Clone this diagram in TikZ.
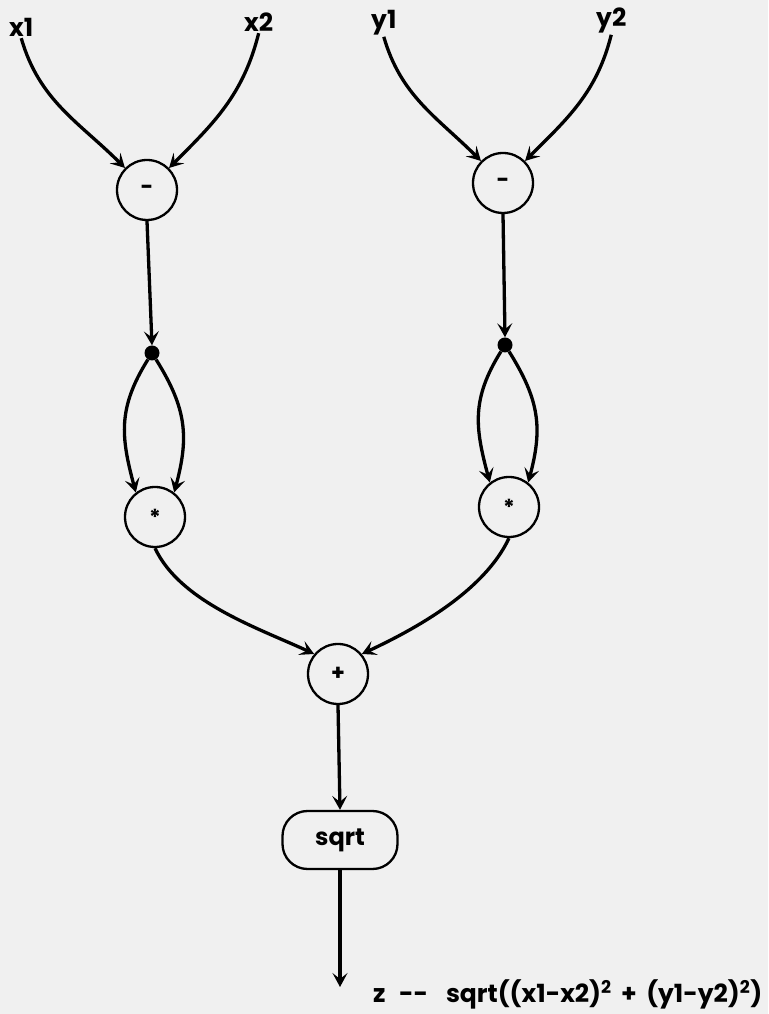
\documentclass[tikz,border=0pt]{standalone}
\usepackage{fontspec}
\setmainfont{Poppins}
\usetikzlibrary{arrows.meta}
\begin{document}
\begin{tikzpicture}[x=1pt,y=1pt,
  op/.style={draw=black,line width=2.3pt,circle,minimum size=60pt,inner sep=0pt,font=\bfseries\fontsize{22}{22}\selectfont},
  lbl/.style={inner sep=1pt,anchor=base west,font=\bfseries\fontsize{25}{25}\selectfont},
  dotn/.style={circle,fill=black,minimum size=15pt,inner sep=0pt},
  boxn/.style={draw=black,line width=2.3pt,rounded corners=25pt,minimum width=115pt,minimum height=58pt,inner sep=0pt,font=\bfseries\fontsize{24}{24}\selectfont},
  arr/.style={line width=3.3pt,-{Stealth[length=14pt,width=15pt,inset=6pt]}}]
\fill[fill=black!6] (0,0) rectangle (768,1014);
\useasboundingbox (0,0) rectangle (768,1014);
% inputs
\node[lbl] (x1) at (8,977) {x1};
\node[lbl] (x2) at (243,982) {x2};
\node[lbl] (y1) at (370,985) {y1};
\node[lbl] (y2) at (595,987) {y2};
% operators
\node[op] (m1) at (147,824) {-};
\node[op] (m2) at (503,831) {-};
\node[dotn] (d1) at (152,661) {};
\node[dotn] (d2) at (505,669) {};
\node[op] (s1) at (155,497) {*};
\node[op] (s2) at (509,507) {*};
\node[op] (p) at (338,340) {+};
\node[boxn] (sq) at (340,174) {sqrt};
\coordinate (z) at (340,27);
\node[inner sep=0pt,anchor=base west,font=\bfseries\fontsize{25}{25}\selectfont] (res) at (373,11)
  {z\,\, -{}-\,\,\, sqrt((x1-x2)\textsuperscript{2}\, + \,(y1-y2)\textsuperscript{2})};
% edges
\draw[arr] (x1.south) to[out=-74,in=135] (m1.135);
\draw[arr] (x2.south) to[out=-104,in=45] (m1.45);
\draw[arr] (y1.south) to[out=-74,in=135] (m2.135);
\draw[arr] (y2.south) to[out=-104,in=45] (m2.45);
\draw[arr] (m1.south) -- (d1.north);
\draw[arr] (m2.south) -- (d2.north);
\draw[arr] (d1) to[out=-122,in=105,looseness=1.1] (s1.128);
\draw[arr] (d1) to[out=-58,in=75,looseness=1.1] (s1.52);
\draw[arr] (d2) to[out=-122,in=105,looseness=1.1] (s2.128);
\draw[arr] (d2) to[out=-58,in=75,looseness=1.1] (s2.52);
\draw[arr] (s1.south) to[out=-65,in=155,looseness=0.8] (p.140);
\draw[arr] (s2.south) to[out=-115,in=25,looseness=0.8] (p.40);
\draw[arr] (p.south) -- (sq.north);
\draw[arr] (sq.south) -- (z);
\end{tikzpicture}
\end{document}
